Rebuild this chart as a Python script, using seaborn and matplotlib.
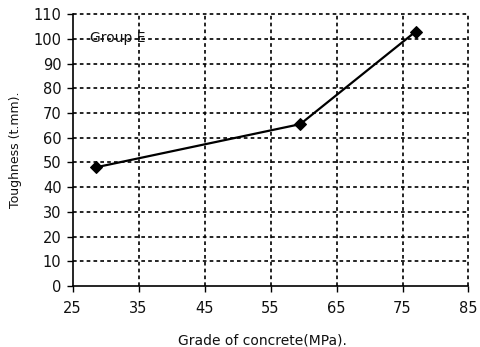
import matplotlib
matplotlib.use("Agg")
import matplotlib.pyplot as plt
import seaborn as sns
import pandas as pd

# Group E: toughness versus concrete grade
grade_mpa = [28.5, 59.5, 77.0]
toughness = [48.0, 65.5, 103.0]
x_ticks = [25, 35, 45, 55, 65, 75, 85]
y_ticks = [0, 10, 20, 30, 40, 50, 60, 70, 80, 90, 100, 110]

sns.set_style("white")
plt.rcParams["font.family"] = ["DejaVu Sans"]

df = pd.DataFrame({"grade": grade_mpa, "toughness": toughness})

fig = plt.figure(figsize=(4.81, 3.47), dpi=100)
ax = fig.add_axes([0.151, 0.176, 0.823, 0.783])

sns.lineplot(data=df, x="grade", y="toughness", ax=ax, color="black",
             linewidth=1.6, marker="D", markersize=6, markeredgecolor="black",
             markerfacecolor="black", zorder=3)

ax.set_xlim(x_ticks[0], x_ticks[-1])
ax.set_ylim(y_ticks[0], y_ticks[-1])
ax.set_xticks(x_ticks)
ax.set_yticks(y_ticks)

# dotted grid on every tick, including the top and right edges
grid_style = dict(color="black", linewidth=1.2, linestyle=(0, (2.2, 1.9)), zorder=1, clip_on=False)
for xv in x_ticks[1:]:
    ax.axvline(xv, **grid_style)
for yv in y_ticks[1:]:
    ax.axhline(yv, **grid_style)

for side in ("top", "right"):
    ax.spines[side].set_visible(False)
for side in ("left", "bottom"):
    ax.spines[side].set_color("black")
    ax.spines[side].set_linewidth(1.2)

ax.tick_params(axis="both", direction="out", length=4, width=1, color="black",
               labelsize=10.5, labelcolor="#111111", left=True, bottom=True)
ax.tick_params(axis="x", pad=7)
ax.tick_params(axis="y", pad=4)

ax.set_xlabel("Grade of concrete(MPa).", fontsize=10, color="#111111")
ax.set_ylabel("Toughness (t.mm).", fontsize=9, color="#111111")
ax.xaxis.set_label_coords(0.48, -0.175)
ax.yaxis.set_label_coords(-0.128, 0.5)

ax.text(27.6, 100.5, "Group E", fontsize=10, ha="left", va="center", color="#111111")

fig.savefig("out.png", dpi=100)
